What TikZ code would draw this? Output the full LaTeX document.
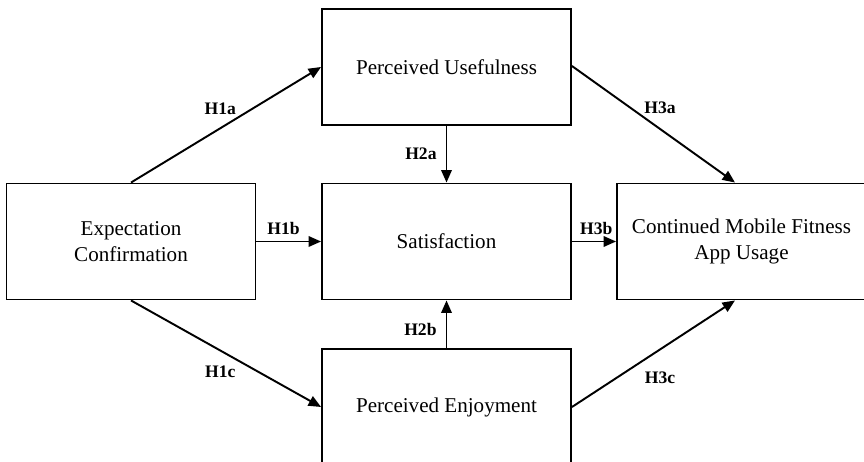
\documentclass[tikz,border=0pt]{standalone}
\usepackage{fontspec}
\setmainfont{Liberation Serif}
\usepackage{tikz}
\usetikzlibrary{positioning, arrows.meta}
\definecolor{bInk}{HTML}{000000}
\tikzset{
  construct/.style={draw=bInk, line width=1.1pt, minimum width=4.98cm, minimum height=2.32cm,
    inner sep=2pt, align=center, font=\fontsize{12}{14.4}\selectfont},
  hpath/.style={draw=bInk, line width=1.1pt, -{Triangle[length=0.25cm, width=0.21cm]}},
  hyp/.style={font=\fontsize{10}{12}\selectfont\bfseries, inner sep=0pt},
}

\begin{document}
\begin{tikzpicture}[x=0.02cm, y=-0.02cm]
      \useasboundingbox (0,0) rectangle (864,462);
      \node[construct] (pu)  at (446.5,67)    {Perceived Usefulness};
      \node[construct] (ec)  at (131,241.5)   {Expectation\\Confirmation};
      \node[construct] (sat) at (446.5,241.5) {Satisfaction};
      \node[construct] (pe)  at (446.5,407)   {Perceived Enjoyment};
      \node[construct] (cm)  at (741.5,241.5) {Continued Mobile Fitness\\App Usage};
      % confirmation paths
      \draw[hpath] (ec.north) -- node[hyp, pos=0.47, above=0.26cm] {H1a} (pu.west);
      \draw[hpath] (ec.east) -- node[hyp, pos=0.42, above=0.12cm] {H1b} (sat.west);
      \draw[hpath] (ec.south) -- node[hyp, pos=0.47, below=0.28cm] {H1c} (pe.west);
      % into satisfaction
      \draw[hpath] (pu.south) -- node[hyp, left=0.18cm] {H2a} (sat.north);
      \draw[hpath] (pe.north) -- node[hyp, pos=0.4, left=0.18cm] {H2b} (sat.south);
      % continuance
      \draw[hpath] ([yshift=0.02cm]pu.east) -- node[hyp, pos=0.54, above=0.28cm] {H3a} ([xshift=-0.13cm]cm.north);
      \draw[hpath] (sat.east) -- node[hyp, pos=0.55, above=0.12cm] {H3b} (cm.west);
      \draw[hpath] (pe.east) -- node[hyp, pos=0.54, below=0.42cm] {H3c} ([xshift=-0.13cm]cm.south);
    \end{tikzpicture}
\end{document}
